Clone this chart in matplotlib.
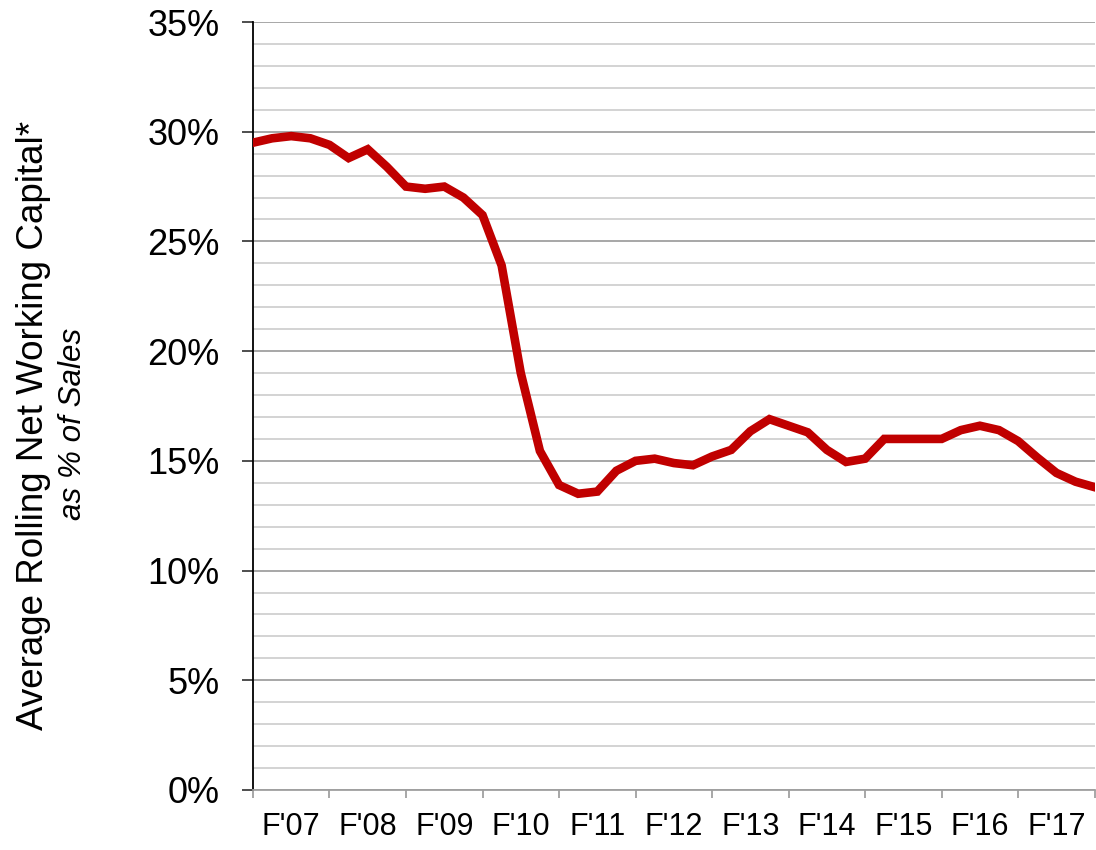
import numpy as np
import matplotlib.pyplot as plt
from matplotlib.ticker import FixedLocator, MultipleLocator, NullFormatter, FuncFormatter

plt.rcParams['font.family'] = ['Liberation Sans', 'DejaVu Sans']

# quarterly values, F'07 Q1 .. F'18 Q1 (percent of sales)
nwc_pct = [29.5, 29.7, 29.8, 29.7, 29.4, 28.8, 29.2, 28.4,
           27.5, 27.4, 27.5, 27.0, 26.2, 23.9, 19.0, 15.45,
           13.9, 13.5, 13.6, 14.55, 15.0, 15.1, 14.9, 14.8,
           15.2, 15.5, 16.35, 16.9, 16.6, 16.3, 15.5, 14.95,
           15.1, 16.0, 16.0, 16.0, 16.0, 16.4, 16.6, 16.4,
           15.9, 15.15, 14.45, 14.05, 13.8]
years = ["F'07", "F'08", "F'09", "F'10", "F'11", "F'12",
         "F'13", "F'14", "F'15", "F'16", "F'17"]

quarters = np.arange(len(nwc_pct))

fig = plt.figure(figsize=(10.96, 8.5), dpi=100)
ax = fig.add_axes([0.2308, 0.0706, 0.768, 0.9035])

ax.plot(quarters, nwc_pct, color='#C00000', lw=6.2, solid_joinstyle='miter', zorder=3)

ax.set_xlim(0, len(nwc_pct) - 1)
ax.set_ylim(0, 35)

# gridlines every 1%, darker every 5%
ax.yaxis.set_major_locator(MultipleLocator(5))
ax.yaxis.set_minor_locator(MultipleLocator(1))
ax.yaxis.set_major_formatter(FuncFormatter(lambda v, p: f'{v:.0f}%'))
ax.grid(which='minor', axis='y', color='#D0D0D0', lw=1.3)
ax.grid(which='major', axis='y', color='#A0A0A0', lw=1.3)
ax.tick_params(axis='y', which='minor', length=0)
ax.tick_params(axis='y', which='major', length=8, width=1.3, color='#404040',
               labelsize=26, pad=16)

# year boundaries as ticks, labels centred between them
ax.xaxis.set_major_locator(FixedLocator(np.arange(0, len(nwc_pct), 4)))
ax.xaxis.set_major_formatter(NullFormatter())
ax.xaxis.set_minor_locator(FixedLocator(np.arange(2, len(nwc_pct) - 1, 4)))
ax.set_xticklabels(years, minor=True)
ax.tick_params(axis='x', which='major', length=6, width=1.3, color='#A0A0A0')
ax.tick_params(axis='x', which='minor', length=0, labelsize=22, pad=16)

for side in ['top', 'right']:
    ax.spines[side].set_visible(False)
ax.spines['left'].set_color('black')
ax.spines['left'].set_linewidth(1.3)
ax.spines['bottom'].set_color('#A0A0A0')
ax.spines['bottom'].set_linewidth(1.3)
ax.set_axisbelow(True)

fig.text(0.031, 0.499, 'Average Rolling Net Working Capital*', rotation=90,
         ha='center', va='center', fontsize=26.5)
fig.text(0.067, 0.501, 'as % of Sales', rotation=90, style='italic',
         ha='center', va='center', fontsize=22.6)

fig.savefig('out.png', dpi=100)
